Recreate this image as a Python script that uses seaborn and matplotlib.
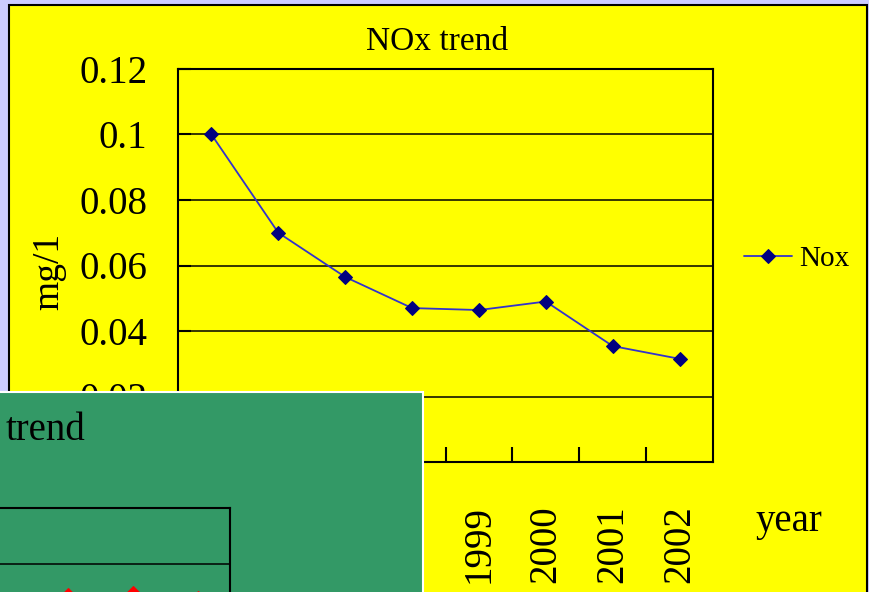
import numpy as np
import pandas as pd
import seaborn as sns
import matplotlib.pyplot as plt
from matplotlib.patches import Rectangle

# data
years = ['1995', '1996', '1997', '1998', '1999', '2000', '2001', '2002']
nox = [0.100, 0.070, 0.0565, 0.047, 0.0464, 0.049, 0.0354, 0.0315]
y_ticks = [0, 0.02, 0.04, 0.06, 0.08, 0.1, 0.12]
y_tick_labels = ['0', '0.02', '0.04', '0.06', '0.08', '0.1', '0.12']

# second chart lying over the first one, only its last three points show
back_vals = [np.nan, np.nan, np.nan, np.nan, np.nan, 0.0888, 0.0895, 0.0879]

W, H = 869, 592


def fx(x):
    return x / W


def fy(y):
    return 1 - y / H


sns.set_style('white')
plt.rcParams['font.family'] = ['Liberation Serif', 'DejaVu Serif']
plt.rcParams.update({'text.color': 'black', 'xtick.color': 'black',
                     'ytick.color': 'black', 'axes.labelcolor': 'black'})

fig = plt.figure(figsize=(W / 100, H / 100), dpi=100)
fig.patch.set_facecolor('#CCCCFF')

# yellow slide panel
fig.add_artist(Rectangle((fx(9), fy(600)), fx(867 - 9), (600 - 5) / H,
                         transform=fig.transFigure, facecolor='#FFFF00',
                         edgecolor='black', lw=1.5, zorder=-1))

ax = fig.add_axes([fx(178), fy(462), fx(713 - 178), (462 - 69) / H])
ax.set_zorder(1)
ax.set_facecolor('#FFFF00')

df = pd.DataFrame({'year': years, 'NOx': nox})
sns.lineplot(data=df, x='year', y='NOx', ax=ax, color='#3333CC', lw=1.3,
             marker='D', markersize=7, markerfacecolor='#000080',
             markeredgecolor='#000080', label='Nox')

ax.set_xlim(-0.5, len(years) - 0.5)
ax.set_ylim(0, 0.12)
ax.set_yticks(y_ticks)
ax.set_yticklabels(y_tick_labels)
ax.set_xticks(range(len(years)))
ax.set_xticklabels(years, rotation=90)
ax.set_xticks(np.arange(0.5, len(years) - 1, 1.0), minor=True)
ax.tick_params(axis='x', which='major', length=0, pad=31, labelsize=28)
ax.tick_params(axis='x', which='minor', direction='in', length=11,
               width=1.5, color='black', bottom=True)
ax.tick_params(axis='y', which='major', direction='in', length=9,
               width=1.5, color='black', left=True, pad=22, labelsize=28)
ax.set_xlabel('')
ax.set_ylabel('')
ax.yaxis.grid(True, color='black', lw=1.1)
ax.xaxis.grid(False)
for sp in ax.spines.values():
    sp.set_visible(True)
    sp.set_color('black')
    sp.set_linewidth(1.5)

ax.legend(loc='center left', bbox_to_anchor=(fx(744), fy(259)),
          bbox_transform=fig.transFigure, frameon=False, fontsize=21,
          handlelength=1.65, handletextpad=0.25, borderpad=0, borderaxespad=0)

fig.text(fx(437), fy(42), 'NOx trend', ha='center', va='center', fontsize=24)
fig.text(fx(49), fy(271), 'mg/1', ha='center', va='center', rotation=90,
         fontsize=27)
fig.text(fx(789), fy(521), 'year', ha='center', va='center', fontsize=28)

# green chart pasted on top, lower left
fig.add_artist(Rectangle((fx(-5), fy(600)), fx(423 + 5), (600 - 392) / H,
                         transform=fig.transFigure, facecolor='#339966',
                         edgecolor='white', lw=1.5, zorder=5))

ax2 = fig.add_axes([fx(-290), fy(844), fx(520), (844 - 508) / H])
ax2.set_zorder(6)
ax2.set_facecolor('#339966')
sns.lineplot(x=np.arange(len(years)), y=back_vals, ax=ax2, color='red',
             lw=1.1, marker='D', markersize=7, markerfacecolor='red',
             markeredgecolor='red')
ax2.set_xlim(-0.5, len(years) - 0.5)
ax2.set_ylim(0, 0.12)
ax2.set_yticks(y_ticks)
ax2.yaxis.grid(True, color='black', lw=1.1)
ax2.xaxis.grid(False)
ax2.tick_params(length=0, labelleft=False, labelbottom=False)
for sp in ax2.spines.values():
    sp.set_color('black')
    sp.set_linewidth(1.5)

fig.text(fx(85), fy(430), 'trend', ha='right', va='center', fontsize=28,
         zorder=7)

fig.savefig('out.png', dpi=100, facecolor=fig.get_facecolor())
